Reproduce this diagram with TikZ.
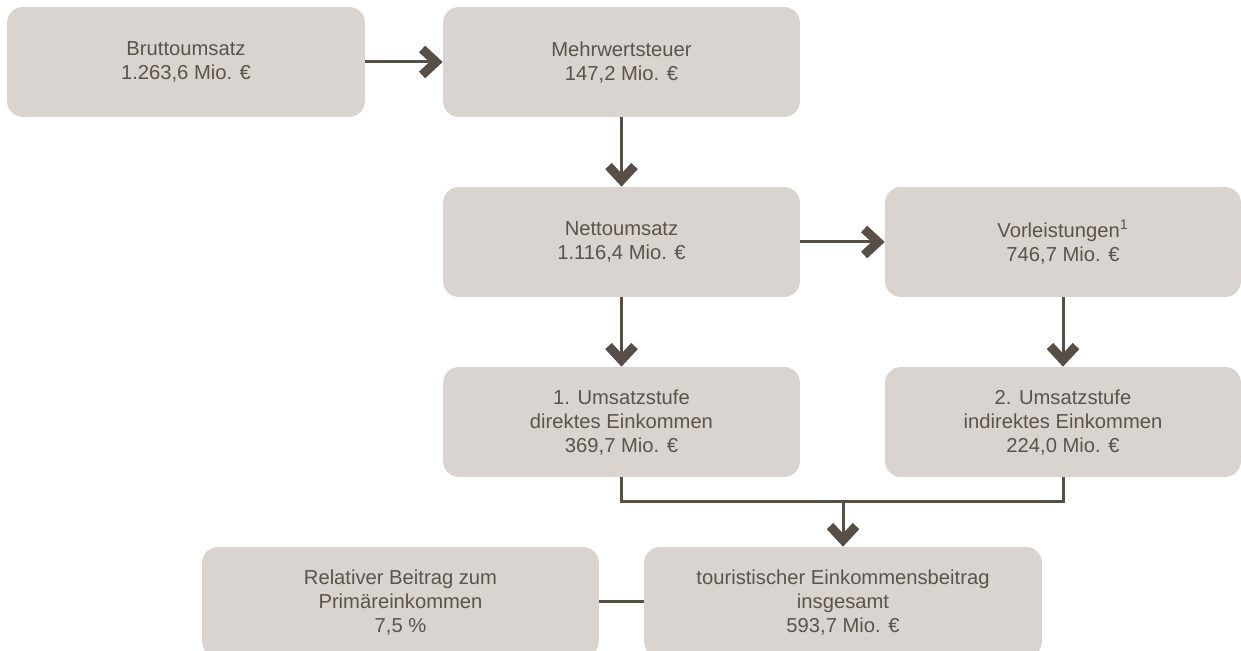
\documentclass[tikz,border=0pt]{standalone}
\usepackage{fontspec}
\setmainfont{Liberation Sans}
\usetikzlibrary{arrows.meta}
\definecolor{boxgray}{HTML}{D9D4D0}
\definecolor{linebrown}{HTML}{574E46}
\definecolor{textbrown}{HTML}{5B534C}
\tikzset{
  box/.style={fill=boxgray, rounded corners=0.32cm, minimum height=0.44cm*5, inner sep=0pt,
    align=center, text=textbrown, font=\fontsize{11.5}{13.66}\selectfont},
  conn/.style={draw=linebrown, line width=0.6mm},
  arrow/.style={conn, -{Straight Barb[length=2.8mm, width=5.2mm, line width=1.8mm]}}
}
\begin{document}
\begin{tikzpicture}[x=0.02cm, y=-0.02cm]
    \useasboundingbox (0,0) rectangle (1241,651);

    \node[box, minimum width=7.16cm] (brutto) at (186,62) {Bruttoumsatz\\1.263,6 Mio. €};
    \node[box, minimum width=7.14cm] (mwst) at (621.5,62) {Mehrwertsteuer\\147,2 Mio. €};
    \node[box, minimum width=7.14cm] (netto) at (621.5,242) {Nettoumsatz\\1.116,4 Mio. €};
    \node[box, minimum width=7.12cm] (vor) at (1063,242) {Vorleistungen\textsuperscript{1}\\746,7 Mio. €};
    \node[box, minimum width=7.14cm] (stufe1) at (621.5,422) {1. Umsatzstufe\\direktes Einkommen\\369,7 Mio. €};
    \node[box, minimum width=7.12cm] (stufe2) at (1063,422) {2. Umsatzstufe\\indirektes Einkommen\\224,0 Mio. €};
    \node[box, minimum width=7.96cm] (gesamt) at (843,602) {touristischer Einkommensbeitrag\\insgesamt\\593,7 Mio. €};
    \node[box, minimum width=7.94cm] (beitrag) at (400.5,602) {Relativer Beitrag zum\\Primäreinkommen\\7,5 \%};

    \coordinate (merge) at (843,502);

    \draw[arrow] (brutto) -- (mwst);
    \draw[arrow] (mwst) -- (netto);
    \draw[arrow] (netto) -- (vor);
    \draw[arrow] (netto) -- (stufe1);
    \draw[arrow] (vor) -- (stufe2);
    \draw[conn] (stufe1.south) |- (merge) -| (stufe2.south);
    \draw[arrow] (merge) -- (gesamt.north);
    \draw[conn] (beitrag) -- (gesamt);

\end{tikzpicture}
\end{document}
